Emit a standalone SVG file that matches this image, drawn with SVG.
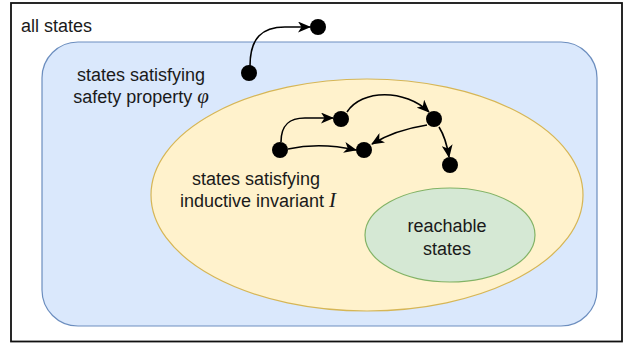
<svg xmlns="http://www.w3.org/2000/svg" width="625" height="343" viewBox="0 0 625 343">
  <defs>
    <marker id="arrow" markerUnits="userSpaceOnUse" markerWidth="13" markerHeight="11" viewBox="0 0 13 11" refX="12" refY="5.5" orient="auto">
      <path d="M0,0 L13,5.5 L0,11 L3.5,5.5 z" fill="#000"/>
    </marker>
  </defs>
  <style>
    .lbl { font-family: "Liberation Sans", Arial, Helvetica, sans-serif; font-size: 18px; fill: #1a1a1a; text-anchor: middle; }
    .math { font-family: "Liberation Serif", "Times New Roman", serif; font-style: italic; font-size: 21px; }
    .dot { fill: #000; }
    .edge { fill: none; stroke: #000; stroke-width: 1.6; marker-end: url(#arrow); }
  </style>
  <rect width="625" height="343" fill="#fff"/>
  <g id="all-states">
    <rect x="11" y="3" width="611" height="338.5" fill="#fff" stroke="#111" stroke-width="1.8"/>
    <text class="lbl" x="56.5" y="31.5">all states</text>
  </g>
  <g id="safety">
    <rect x="42" y="42" width="555" height="284" rx="36" ry="36" fill="#dae8fc" stroke="#6c8ebf" stroke-width="1.2"/>
    <text class="lbl" x="141" y="81">states satisfying</text>
    <text class="lbl" x="141" y="102.5">safety property <tspan class="math">φ</tspan></text>
  </g>
  <g id="invariant">
    <ellipse cx="367" cy="195" rx="216" ry="116" fill="#fff2cc" stroke="#d6b656" stroke-width="1.2"/>
    <text class="lbl" x="256" y="185">states satisfying</text>
    <text class="lbl" x="258" y="207">inductive invariant <tspan class="math">I</tspan></text>
  </g>
  <g id="reachable">
    <ellipse cx="450" cy="235" rx="85" ry="47" fill="#d5e8d4" stroke="#82b366" stroke-width="1.2"/>
    <text class="lbl" x="447" y="232">reachable</text>
    <text class="lbl" x="447" y="255">states</text>
  </g>
  <g id="dot-top"><circle class="dot" cx="318" cy="27" r="8"/></g>
  <g id="dot-start"><circle class="dot" cx="249" cy="73" r="8"/></g>
  <g id="dot-a"><circle class="dot" cx="280" cy="150" r="8"/></g>
  <g id="dot-b"><circle class="dot" cx="341" cy="119" r="8"/></g>
  <g id="dot-c"><circle class="dot" cx="434" cy="119" r="8"/></g>
  <g id="dot-d"><circle class="dot" cx="364" cy="150" r="8"/></g>
  <g id="dot-e"><circle class="dot" cx="450" cy="165" r="8"/></g>
  <g id="connectors">
    <path class="edge" d="M250,66 C250,38 262,27 285,27 L310,27"/>
    <path class="edge" d="M281,142 C281,124 290,118 305,118 L333,118"/>
    <path class="edge" d="M288,149 Q320,142 356,150"/>
    <path class="edge" d="M347,112 C362,89 405,89 429,112"/>
    <path class="edge" d="M427,125 Q395,130 372,144"/>
    <path class="edge" d="M439,127 Q446,138 449,157"/>
  </g>
</svg>
